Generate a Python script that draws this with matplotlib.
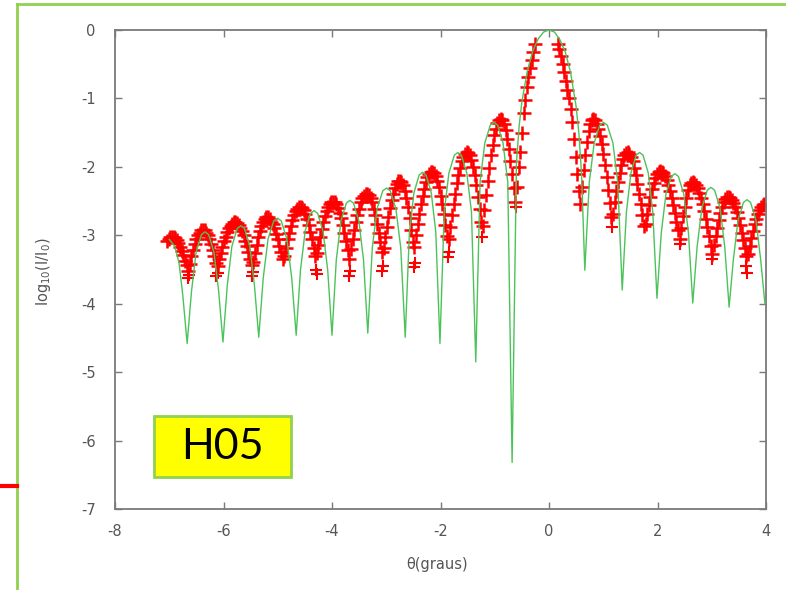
import numpy as np
import matplotlib
matplotlib.use("Agg")
import matplotlib.pyplot as plt
from matplotlib.lines import Line2D
from matplotlib.patches import Rectangle

# ---- theory curve (green) ----
green_x = [-7.00, -6.90, -6.82, -6.75, -6.67,
           -6.59, -6.505, -6.406, -6.34, -6.274, -6.175, -6.089, -6.01,
           -5.93, -5.845, -5.746, -5.68, -5.614, -5.515, -5.43, -5.35,
           -5.267, -5.178, -5.074, -5.005, -4.936, -4.833, -4.743, -4.66,
           -4.581, -4.495, -4.396, -4.33, -4.264, -4.165, -4.079, -4.00,
           -3.921, -3.835, -3.736, -3.67, -3.604, -3.505, -3.419, -3.34,
           -3.257, -3.168, -3.064, -2.995, -2.926, -2.823, -2.733, -2.65,
           -2.573, -2.49, -2.394, -2.33, -2.266, -2.17, -2.087, -2.01,
           -1.931, -1.845, -1.746, -1.68, -1.614, -1.515, -1.429, -1.35,
           -1.27, -1.183, -1.082, -1.015, -0.948, -0.848, -0.76, -0.68,
           -0.60, -0.55, -0.50, -0.40, -0.30, -0.20, -0.10, 0.00, 0.10, 0.20,
           0.30, 0.40, 0.50, 0.55, 0.60, 0.66,
           0.743, 0.833, 0.936, 1.005, 1.074, 1.178, 1.267, 1.35,
           1.427, 1.51, 1.606, 1.67, 1.734, 1.83, 1.913, 1.99,
           2.069, 2.155, 2.254, 2.32, 2.386, 2.485, 2.571, 2.65,
           2.73, 2.818, 2.918, 2.985, 3.052, 3.153, 3.24, 3.32,
           3.399, 3.485, 3.584, 3.65, 3.716, 3.815, 3.901, 3.98]
green_y = [-3.06, -3.16, -3.40, -3.88, -4.58,
           -3.82, -3.25, -2.99, -2.95, -2.99, -3.25, -3.82, -4.56,
           -3.73, -3.16, -2.90, -2.86, -2.90, -3.16, -3.73, -4.49,
           -3.62, -3.05, -2.79, -2.75, -2.79, -3.05, -3.62, -4.46,
           -3.51, -2.94, -2.68, -2.64, -2.68, -2.94, -3.51, -4.46,
           -3.36, -2.79, -2.53, -2.49, -2.53, -2.79, -3.36, -4.43,
           -3.18, -2.61, -2.35, -2.31, -2.35, -2.61, -3.18, -4.49,
           -2.95, -2.38, -2.12, -2.08, -2.12, -2.38, -2.95, -4.58,
           -2.66, -2.09, -1.83, -1.79, -1.83, -2.09, -2.66, -4.85,
           -2.22, -1.65, -1.39, -1.35, -1.39, -1.65, -2.22, -6.32,
           -1.94, -1.40, -1.05, -0.60, -0.31, -0.13, -0.03, 0.00, -0.03, -0.14,
           -0.32, -0.63, -1.12, -1.50, -2.10, -3.51,
           -2.22, -1.65, -1.39, -1.35, -1.39, -1.65, -2.22, -3.80,
           -2.66, -2.09, -1.83, -1.79, -1.83, -2.09, -2.66, -3.92,
           -2.97, -2.40, -2.14, -2.10, -2.14, -2.40, -2.97, -3.99,
           -3.17, -2.60, -2.34, -2.30, -2.34, -2.60, -3.17, -4.05,
           -3.35, -2.78, -2.52, -2.48, -2.52, -2.78, -3.35, -4.00]

# ---- measured data (red +), scan from -7.04 to 3.97 deg in 0.03 deg steps ----
red_x_first = -7.04
red_x_last = 3.97
nan = float("nan")
red_y = [-3.08, -3.05, -3.03, -3.02, -3.03, -3.04, -3.07, -3.12, -3.17, -3.23, -3.29, -3.37, -3.44, -3.52,
         -3.42, -3.31, -3.22, -3.13, -3.06, -3.00, -2.96, -2.93, -2.92,
         -2.93, -2.96, -3.00, -3.06, -3.13, -3.22, -3.31, -3.41,
         -3.45, -3.35, -3.26, -3.17, -3.09, -3.02, -2.95, -2.90, -2.86, -2.83, -2.81,
         -2.81, -2.82, -2.85, -2.89, -2.94, -3.00, -3.08, -3.16, -3.25, -3.34, -3.44,
         -3.39, -3.26, -3.14, -3.03, -2.94, -2.86, -2.80, -2.76, -2.74,
         -2.74, -2.76, -2.80, -2.84, -2.90, -2.98, -3.06, -3.15, -3.25, -3.35,
         -3.30, -3.18, -3.06, -2.96, -2.86, -2.77, -2.70, -2.65, -2.61, -2.58,
         -2.58, -2.60, -2.63, -2.69, -2.76, -2.85, -2.95, -3.06, -3.18, -3.30,
         -3.26, -3.14, -3.02, -2.91, -2.81, -2.72, -2.65, -2.59, -2.55, -2.52, -2.51,
         -2.52, -2.55, -2.60, -2.67, -2.75, -2.85, -2.96, -3.08, -3.21, -3.34,
         -3.20, -3.06, -2.93, -2.81, -2.70, -2.61, -2.52, -2.46, -2.42, -2.39,
         -2.39, -2.41, -2.45, -2.52, -2.61, -2.71, -2.83, -2.96, -3.10, -3.25,
         -3.19, -3.03, -2.88, -2.73, -2.60, -2.48, -2.39, -2.31, -2.25, -2.21, -2.20,
         -2.22, -2.27, -2.35, -2.46, -2.59, -2.75, -2.92, -3.10,
         -3.17, -3.00, -2.84, -2.69, -2.55, -2.43, -2.32, -2.22, -2.15, -2.10, -2.08,
         -2.07, -2.09, -2.14, -2.21, -2.30, -2.42, -2.55, -2.69, -2.85, -3.01,
         -3.06, -2.88, -2.71, -2.54, -2.39, -2.24, -2.12, -2.01, -1.92, -1.86, -1.81, -1.79,
         -1.80, -1.83, -1.90, -2.00, -2.12, -2.27, -2.44, -2.61, -2.80,
         -2.86, -2.63, -2.41, -2.20, -2.01, -1.83, -1.68, -1.54, -1.44, -1.36, -1.32, -1.30,
         -1.32, -1.37, -1.46, -1.59, -1.74, -1.91, -2.10, -2.31, -2.52,
         -2.30, -2.00, -1.78, -1.50, -1.22, -1.02, -0.83, -0.68, -0.55, -0.44, -0.32, -0.20,
         nan, nan, nan, nan, nan, nan, nan, nan, nan, nan, nan, nan, nan,
         -0.20, -0.28, -0.38, -0.50, -0.62, -0.75, -0.88, -1.00, -1.15, -1.35, -1.60, -1.85, -2.10, -2.35, -2.55,
         -2.30, -2.05, -1.83, -1.64, -1.48, -1.37, -1.31,
         -1.30, -1.32, -1.37, -1.45, -1.55, -1.67, -1.81, -1.97, -2.15, -2.34, -2.53, -2.73,
         -2.69, -2.52, -2.36, -2.22, -2.09, -1.98, -1.89, -1.83, -1.80,
         -1.79, -1.81, -1.86, -1.92, -2.01, -2.12, -2.25, -2.39, -2.54, -2.70, -2.86,
         -2.83, -2.69, -2.56, -2.44, -2.33, -2.24, -2.16, -2.10, -2.07,
         -2.06, -2.07, -2.09, -2.14, -2.19, -2.27, -2.35, -2.45, -2.56, -2.68, -2.80, -2.93, -3.06,
         -2.89, -2.72, -2.58, -2.45, -2.34, -2.27, -2.23,
         -2.22, -2.23, -2.27, -2.31, -2.38, -2.46, -2.55, -2.65, -2.76, -2.88, -3.01, -3.15, -3.28,
         -3.14, -3.01, -2.89, -2.77, -2.67, -2.59, -2.52, -2.47, -2.44,
         -2.44, -2.45, -2.48, -2.53, -2.59, -2.66, -2.75, -2.85, -2.96, -3.07, -3.19, -3.31,
         -3.27, -3.16, -3.04, -2.94, -2.84, -2.76, -2.69, -2.63, -2.58, -2.56, -2.55]

# isolated low points near the minima
red_out_x = [-6.66, -6.64, -6.13, -6.11, -5.47, -5.45, -4.30, -4.28, -3.68, -3.66,
             -3.08, -3.06, -2.49, -2.47, -1.86, -1.84, -1.23, -0.61, 1.16, 2.41, 3.01, 3.65, 3.63]
red_out_y = [-3.62, -3.58, -3.60, -3.55, -3.60, -3.54, -3.50, -3.56, -3.60, -3.52,
             -3.52, -3.45, -3.47, -3.40, -3.32, -3.25, -3.02, -2.58, -2.88, -3.13, -3.35, -3.55, -3.45]

x_ticks = [-8, -6, -4, -2, 0, 2, 4]
y_ticks = [0, -1, -2, -3, -4, -5, -6, -7]
x_label = "θ(graus)"
y_label = r"log$_{10}$(I/I$_0$)"
tag_text = "H05"

red_x = np.linspace(red_x_first, red_x_last, len(red_y))

W, H = 786, 590
fig = plt.figure(figsize=(W / 100, H / 100), dpi=100)
fig.patch.set_facecolor("white")
ax = fig.add_axes([115 / W, 1 - 509 / H, 651 / W, 479 / H])

red = "#ff0000"
ax.plot(red_x, red_y, linestyle="none", marker="+", color=red, ms=9.5, mew=1.8, zorder=2)
ax.plot(red_out_x, red_out_y, linestyle="none", marker="+", color=red, ms=8, mew=1.5, zorder=2)
ax.plot(green_x, green_y, color="#4cc35a", lw=1.0, zorder=3)

ax.set_xlim(-8, 4)
ax.set_ylim(-7, 0)
ax.set_xticks(x_ticks)
ax.set_yticks(y_ticks)
ax.set_xticklabels([str(v) for v in x_ticks])
ax.set_yticklabels([str(v) for v in y_ticks])

grey = "#7a7a7a"
for s in ax.spines.values():
    s.set_color(grey)
    s.set_linewidth(1.3)
ax.tick_params(direction="in", length=5, width=1.0, color=grey, labelcolor="#555555",
               labelsize=10.5, top=True, right=True)
ax.tick_params(axis="y", pad=14)
ax.tick_params(axis="x", pad=11)

ax.set_xlabel(x_label, color="#555555", fontsize=10.5)
ax.set_ylabel(y_label, color="#555555", fontsize=10.5)
ax.xaxis.set_label_coords((437 - 115) / 651, (509 - 557) / 479)
ax.yaxis.set_label_coords((53 - 115) / 651, (509 - 272) / 479)

# slide decorations
border = "#92d050"
fig.add_artist(Line2D([17 / W, 1.0], [1 - 4 / H, 1 - 4 / H], color=border, lw=2.0,
                      transform=fig.transFigure))
fig.add_artist(Line2D([17 / W, 17 / W], [1 - 4 / H, 0.0], color=border, lw=2.0,
                      transform=fig.transFigure))
fig.add_artist(Line2D([0.0, 17 / W], [1 - 486 / H, 1 - 486 / H], color="#ff0000", lw=3.0,
                      transform=fig.transFigure))
fig.add_artist(Rectangle((154 / W, 1 - 477 / H), 137 / W, 61 / H, transform=fig.transFigure,
                         facecolor="#ffff00", edgecolor=border, lw=2.0))
fig.text(222.5 / W, 1 - 447 / H, tag_text, ha="center", va="center", fontsize=31,
         family=["Lato", "DejaVu Sans"], color="black")

fig.savefig("out.png", dpi=100, facecolor="white")
